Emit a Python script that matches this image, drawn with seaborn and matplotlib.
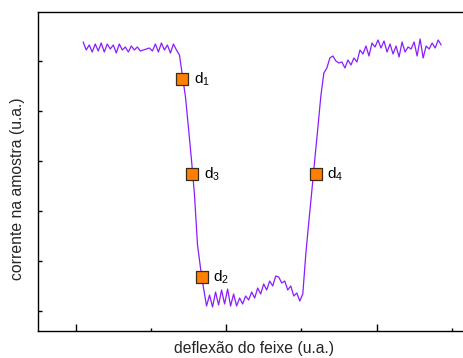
import numpy as np
import pandas as pd
import matplotlib
matplotlib.use("Agg")
import matplotlib.pyplot as plt
import seaborn as sns

# ---- data (arbitrary units) ----
x_start = 0.1      # first sample position (tick units)
x_step = 0.04      # sampling step
current = [269, 261, 266, 259, 267, 260, 268, 259, 267, 262,
           266, 258, 267, 261, 264, 259, 265, 261, 264, 260,
           261, 262, 263, 260, 267, 259, 268, 261, 266, 258,
           267, 261,
           256, 235,
           214, 183, 151, 116, 66, 43, 23, 5,
           16, 4, 19, 6, 21, 7, 22, 5, 17, 5,
           13, 7, 15, 11, 19, 13, 23, 17, 27, 21,
           30, 25, 35, 34, 28, 30, 21, 25, 15, 18,
           10, 17,
           57, 89, 120, 152, 183, 215, 238, 243, 253,
           255, 250, 248, 249, 243, 251, 246, 253, 249, 261,
           257, 265, 255, 268, 264, 271, 263, 270, 259, 267,
           257, 265, 254, 269, 259, 264, 262, 269, 255, 272,
           253, 265, 262, 268, 263, 271, 266]
deflection = x_start + x_step * np.arange(len(current))

point_names = ["d$_1$", "d$_3$", "d$_2$", "d$_4$"]
point_x = [1.42, 1.553, 1.68, 3.195]
point_y = [232, 137, 34, 137]

x_major = [0, 2, 4]
x_minor = [1, 3, 5]
y_ticks = [0, 50, 100, 150, 200, 250]

xlabel = "deflexão do feixe (u.a.)"
ylabel = "corrente na amostra (u.a.)"

# ---- style ----
sns.set_style("ticks")
plt.rcParams["font.family"] = ["Liberation Sans", "DejaVu Sans"]
plt.rcParams["mathtext.default"] = "regular"

fig = plt.figure(figsize=(4.63, 3.58), dpi=100)
ax = fig.add_axes([38 / 463, 27 / 358, 448 / 463, 319 / 358])

line_df = pd.DataFrame({"x": deflection, "y": current})
sns.lineplot(data=line_df, x="x", y="y", ax=ax, color="#8a1cff",
             linewidth=0.9, sort=False)

pts_df = pd.DataFrame({"x": point_x, "y": point_y, "name": point_names})
sns.scatterplot(data=pts_df, x="x", y="y", ax=ax, marker="s", s=70,
                color="#ff8000", edgecolor="#3a2a1a", linewidth=0.9,
                zorder=5)
for _, r in pts_df.iterrows():
    ax.annotate(r["name"], (r["x"], r["y"]), xytext=(8, 0),
                textcoords="offset points", va="center", ha="left",
                fontsize=11, color="black")

ax.set_xlim(-0.501, 5.456)
ax.set_ylim(-20, 299)
ax.set_xticks(x_major)
ax.set_xticks(x_minor, minor=True)
ax.set_yticks(y_ticks)
ax.set_xticklabels([])
ax.set_yticklabels([])
ax.tick_params(axis="x", which="major", direction="in", length=5, width=1, color="black")
ax.tick_params(axis="x", which="minor", direction="in", length=2.4, width=1, color="black")
ax.tick_params(axis="y", which="major", direction="in", length=3.2, width=1, color="black")

for s in ["left", "bottom", "top", "right"]:
    ax.spines[s].set_visible(True)
    ax.spines[s].set_linewidth(1.0)
    ax.spines[s].set_color("black")

ax.set_xlabel(xlabel, fontsize=11.3)
ax.set_ylabel(ylabel, fontsize=11.3)
ax.xaxis.set_label_coords((254 - 38) / 448, -(341 - 331) / 319)
ax.yaxis.set_label_coords(-(38 - 25) / 448, (331 - 189) / 319)

fig.savefig("out.png", dpi=100)
